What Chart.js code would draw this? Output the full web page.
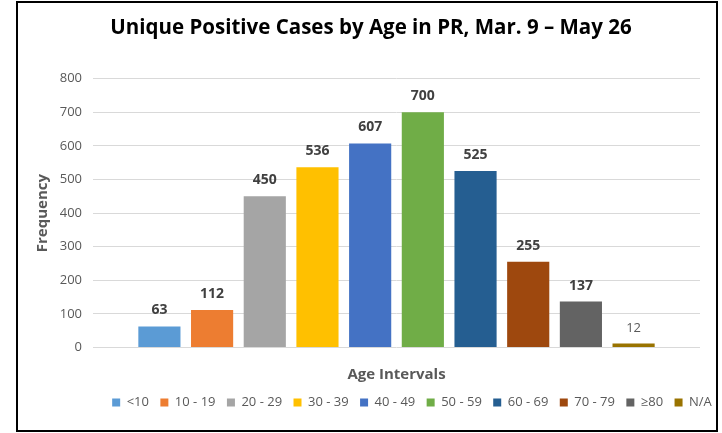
<!DOCTYPE html>
<html>
<head>
<meta charset="utf-8">
<script src="https://cdn.jsdelivr.net/npm/chart.js@4"></script>
<style>
  html, body { margin: 0; padding: 0; background: #fff; }
  #wrap { position: relative; width: 722px; height: 433px; }
  #frame { position: absolute; left: 16px; top: 1px; width: 702px; height: 431px;
           box-sizing: border-box; border: 2px solid #000; pointer-events: none; }
</style>
</head>
<body>
<div id="wrap">
  <canvas id="ageChart" width="722" height="433"></canvas>
  <div id="frame"></div>
</div>
<script>
const ageGroups = ['<10', '10 - 19', '20 - 29', '30 - 39', '40 - 49', '50 - 59', '60 - 69', '70 - 79', '≥80', 'N/A'];
const caseCounts = [63, 112, 450, 536, 607, 700, 525, 255, 137, 12];
const groupColors = ['#5B9BD5', '#ED7D31', '#A5A5A5', '#FFC000', '#4472C4', '#70AD47', '#255E91', '#9E480E', '#636363', '#997300'];
const yTicks = [0, 100, 200, 300, 400, 500, 600, 700, 800];

const FONT = "'Open Sans', sans-serif";

// value labels above each bar
const barValues = {
  id: 'barValues',
  afterDatasetsDraw(chart) {
    const ctx = chart.ctx;
    ctx.save();
    ctx.textAlign = 'center';
    ctx.textBaseline = 'alphabetic';
    chart.data.datasets.forEach((ds, i) => {
      const bar = chart.getDatasetMeta(i).data[0];
      // the N/A label is plain grey in the original
      if (ds.label === 'N/A') {
        ctx.font = '13px ' + FONT;
        ctx.fillStyle = '#595959';
      } else {
        ctx.font = 'bold 14px ' + FONT;
        ctx.fillStyle = '#404040';
      }
      ctx.fillText(ds.data[0], bar.x, bar.y - 12);
    });
    ctx.restore();
  }
};

// the original's title and legend sit a bit right of centre
const nudge = {
  id: 'nudge',
  beforeDraw(chart) {
    const shift = (box, dx) => { box.left += dx; box.right += dx; };
    shift(chart.titleBlock, 6);
    shift(chart.legend, 47);
  }
};

new Chart(document.getElementById('ageChart'), {
  type: 'bar',
  data: {
    labels: [''],
    datasets: ageGroups.map((g, i) => ({
      label: g,
      data: [caseCounts[i]],
      backgroundColor: groupColors[i],
      borderWidth: 0,
      barPercentage: 0.8,
      categoryPercentage: 0.868
    }))
  },
  options: {
    responsive: false,
    animation: false,
    layout: { padding: { left: 30, right: 22, top: 16, bottom: 14 } },
    plugins: {
      title: {
        display: true,
        text: 'Unique Positive Cases by Age in PR, Mar. 9 – May 26',
        color: '#000',
        font: { family: FONT, size: 20.5, weight: 'bold' },
        padding: { top: 0, bottom: 38 }
      },
      legend: {
        position: 'bottom',
        labels: {
          color: '#595959',
          font: { family: FONT, size: 13 },
          boxWidth: 8,
          boxHeight: 8,
          padding: 11.4
        }
      },
      tooltip: { enabled: false }
    },
    scales: {
      x: {
        grid: { display: false },
        border: { display: false },
        ticks: { display: false },
        title: {
          display: true,
          text: 'Age Intervals',
          color: '#595959',
          font: { family: FONT, size: 15, weight: 'bold' },
          padding: { top: 10, bottom: 1 }
        }
      },
      y: {
        min: 0,
        max: 800,
        afterBuildTicks: s => { s.ticks = yTicks.map(v => ({ value: v })); },
        afterFit: s => { s.width = 63; },
        grid: { color: '#D9D9D9', drawTicks: false },
        border: { display: false },
        ticks: {
          color: '#595959',
          font: { family: FONT, size: 13 },
          padding: 11
        },
        title: {
          display: true,
          text: 'Frequency',
          color: '#595959',
          font: { family: FONT, size: 15, weight: 'bold' },
          padding: { top: 4, bottom: 0 }
        }
      }
    }
  },
  plugins: [barValues, nudge]
});
</script>
</body>
</html>
